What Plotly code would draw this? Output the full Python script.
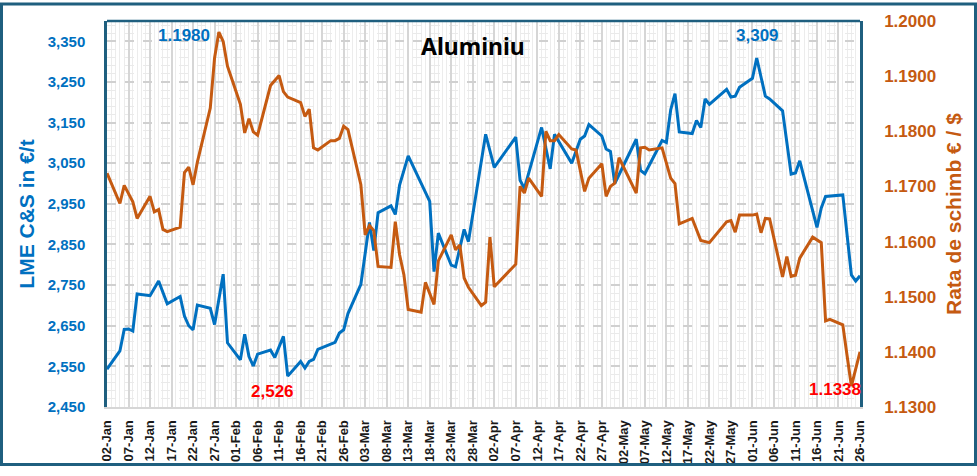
import plotly.graph_objects as go

# ---- data ----
lme_dates = [
    "2026-01-02", "2026-01-05", "2026-01-06", "2026-01-07", "2026-01-08", "2026-01-09",
    "2026-01-12", "2026-01-14", "2026-01-16", "2026-01-19", "2026-01-20", "2026-01-21",
    "2026-01-22", "2026-01-23", "2026-01-26", "2026-01-27", "2026-01-29", "2026-01-30",
    "2026-02-02", "2026-02-03", "2026-02-04", "2026-02-05", "2026-02-06", "2026-02-09",
    "2026-02-10", "2026-02-12", "2026-02-13", "2026-02-16", "2026-02-17", "2026-02-18",
    "2026-02-19", "2026-02-20", "2026-02-24", "2026-02-25", "2026-02-26", "2026-02-27",
    "2026-03-02", "2026-03-04", "2026-03-05", "2026-03-06", "2026-03-09", "2026-03-10",
    "2026-03-11", "2026-03-13", "2026-03-18", "2026-03-19", "2026-03-20", "2026-03-23",
    "2026-03-24", "2026-03-26", "2026-03-27", "2026-03-31", "2026-04-02", "2026-04-07",
    "2026-04-08", "2026-04-09", "2026-04-13", "2026-04-15", "2026-04-16", "2026-04-20",
    "2026-04-22", "2026-04-23", "2026-04-24", "2026-04-27", "2026-04-28", "2026-04-29",
    "2026-04-30", "2026-05-05", "2026-05-06", "2026-05-07", "2026-05-11", "2026-05-12",
    "2026-05-13", "2026-05-14", "2026-05-15", "2026-05-18", "2026-05-19", "2026-05-20",
    "2026-05-21", "2026-05-22", "2026-05-26", "2026-05-27", "2026-05-28", "2026-05-29",
    "2026-06-01", "2026-06-02", "2026-06-04", "2026-06-05", "2026-06-08", "2026-06-10",
    "2026-06-11", "2026-06-12", "2026-06-16", "2026-06-17", "2026-06-18", "2026-06-22",
    "2026-06-24", "2026-06-25", "2026-06-26",
]
lme_values = [
    2543, 2588, 2641, 2642, 2637, 2728,
    2724, 2760, 2704, 2722, 2674, 2650,
    2640, 2701, 2693, 2653, 2777, 2608,
    2566, 2629, 2574, 2551, 2580, 2590,
    2572, 2624, 2526, 2562, 2546, 2562,
    2567, 2592, 2609, 2632, 2640, 2680,
    2752, 2904, 2835, 2928, 2945, 2924,
    2996, 3068, 2956, 2783, 2878, 2799,
    2795, 2887, 2857, 3121, 3040, 3114,
    3008, 2988, 3138, 3036, 3121, 3050,
    3109, 3117, 3145, 3117, 3085, 3079,
    3000, 3109, 3032, 3024, 3106, 3101,
    3181, 3221, 3127, 3123, 3155, 3138,
    3208, 3195, 3232, 3213, 3215, 3237,
    3259, 3309, 3215, 3208, 3179, 3023,
    3026, 3056, 2892, 2940, 2968, 2972,
    2775, 2760, 2773,
]

fx_dates = [
    "2026-01-02", "2026-01-05", "2026-01-06", "2026-01-08", "2026-01-09", "2026-01-12",
    "2026-01-13", "2026-01-14", "2026-01-15", "2026-01-16", "2026-01-19", "2026-01-20",
    "2026-01-21", "2026-01-22", "2026-01-23", "2026-01-26", "2026-01-27", "2026-01-28",
    "2026-01-29", "2026-01-30", "2026-02-02", "2026-02-03", "2026-02-04", "2026-02-05",
    "2026-02-06", "2026-02-09", "2026-02-11", "2026-02-12", "2026-02-13", "2026-02-16",
    "2026-02-17", "2026-02-18", "2026-02-19", "2026-02-20", "2026-02-23", "2026-02-24",
    "2026-02-25", "2026-02-26", "2026-02-27", "2026-03-02", "2026-03-03", "2026-03-04",
    "2026-03-05", "2026-03-06", "2026-03-09", "2026-03-10", "2026-03-11", "2026-03-12",
    "2026-03-13", "2026-03-16", "2026-03-17", "2026-03-19", "2026-03-20", "2026-03-23",
    "2026-03-24", "2026-03-25", "2026-03-26", "2026-03-27", "2026-03-30", "2026-03-31",
    "2026-04-01", "2026-04-02", "2026-04-07", "2026-04-08", "2026-04-09", "2026-04-10",
    "2026-04-13", "2026-04-14", "2026-04-15", "2026-04-16", "2026-04-17", "2026-04-20",
    "2026-04-21", "2026-04-23", "2026-04-24", "2026-04-27", "2026-04-28", "2026-04-29",
    "2026-04-30", "2026-05-01", "2026-05-05", "2026-05-06", "2026-05-07", "2026-05-08",
    "2026-05-11", "2026-05-13", "2026-05-14", "2026-05-15", "2026-05-18", "2026-05-20",
    "2026-05-22", "2026-05-26", "2026-05-27", "2026-05-28", "2026-05-29", "2026-06-01",
    "2026-06-02", "2026-06-03", "2026-06-04", "2026-06-05", "2026-06-08", "2026-06-09",
    "2026-06-10", "2026-06-11", "2026-06-12", "2026-06-15", "2026-06-17", "2026-06-18",
    "2026-06-19", "2026-06-22", "2026-06-23", "2026-06-24", "2026-06-26",
]
fx_values = [
    1.1724, 1.1669, 1.1702, 1.1672, 1.1642, 1.1682,
    1.1654, 1.1658, 1.1622, 1.1618, 1.1626, 1.1725,
    1.1735, 1.1703, 1.1744, 1.1842, 1.1933, 1.1980,
    1.1963, 1.1918, 1.1849, 1.1797, 1.1823, 1.1799,
    1.1793, 1.1883, 1.1901, 1.1872, 1.1862, 1.1852,
    1.1827, 1.1840, 1.1770, 1.1766, 1.1783, 1.1783,
    1.1787, 1.1809, 1.1803, 1.1703, 1.1612, 1.1629,
    1.1620, 1.1555, 1.1553, 1.1636, 1.1576, 1.1540,
    1.1477, 1.1472, 1.1526, 1.1486, 1.1565, 1.1612,
    1.1585, 1.1594, 1.1534, 1.1517, 1.1484, 1.1490,
    1.1608, 1.1518, 1.1559, 1.1700, 1.1688, 1.1715,
    1.1682, 1.1800, 1.1783, 1.1783, 1.1794, 1.1768,
    1.1766, 1.1691, 1.1715, 1.1741, 1.1682, 1.1700,
    1.1706, 1.1752, 1.1688, 1.1770, 1.1771, 1.1766,
    1.1770, 1.1715, 1.1705, 1.1632, 1.1642, 1.1602,
    1.1598, 1.1636, 1.1638, 1.1617, 1.1648, 1.1648,
    1.1650, 1.1616, 1.1642, 1.1641, 1.1536, 1.1573,
    1.1537, 1.1539, 1.1570, 1.1608, 1.1598, 1.1456,
    1.1459, 1.1449, 1.1393, 1.1338, 1.1400,
]

# ---- style ----
BLUE = "#0070C0"
ORANGE = "#C55A11"
FRAME = "#1F5F7F"
FONT = "Arial, Liberation Sans, sans-serif"
W, H = 977, 476
ML, MR, MT, MB = 107, 117, 19, 61
PW, PH = W - ML - MR, H - MT - MB
DAY = 86400000


def px(x):  # pixel x -> paper
    return (x - ML) / PW


def py(y):  # pixel y -> paper
    return (H - MB - y) / PH


fig = go.Figure()

fig.add_trace(go.Scatter(
    x=lme_dates, y=lme_values, mode="lines", name="LME C&S",
    line=dict(color=BLUE, width=3),
))
fig.add_trace(go.Scatter(
    x=fx_dates, y=fx_values, mode="lines", name="EUR/USD", yaxis="y2",
    line=dict(color=ORANGE, width=3),
))

fig.update_layout(
    width=W, height=H,
    margin=dict(l=ML, r=MR, t=MT, b=MB, pad=0),
    paper_bgcolor="white", plot_bgcolor="white",
    showlegend=False,
    font=dict(family=FONT),
    xaxis=dict(
        type="date",
        range=["2026-01-02", "2026-06-26"],
        tick0="2026-01-02", dtick=5 * DAY,
        tickformat="%d-%b", tickangle=-90,
        tickfont=dict(size=13, color="#1a1a1a", weight="bold"),
        ticks="", ticklabelstandoff=6,
        showgrid=True, gridcolor="#D6D6D6", gridwidth=2,
        minor=dict(dtick=DAY, tick0="2026-01-02", showgrid=True,
                   gridcolor="#ECECEC", gridwidth=1),
        showline=True, linecolor="#D6D6D6", linewidth=2,
        zeroline=False,
    ),
    yaxis=dict(
        range=[2450, 3400], tick0=2450, dtick=100, tickformat=",",
        tickfont=dict(size=15, color=BLUE, weight="bold"),
        ticks="", ticklabelstandoff=16,
        title=dict(text="LME C&S in €/t", standoff=8,
                   font=dict(size=21, color=BLUE, weight="bold")),
        showgrid=True, gridcolor="#D0D0D0", gridwidth=1.5, griddash="dash",
        minor=dict(dtick=20, tick0=2450, showgrid=True,
                   gridcolor="#EAEAEA", gridwidth=1, griddash="dash"),
        showline=True, linecolor=FRAME, linewidth=2.5,
        zeroline=False,
    ),
    yaxis2=dict(
        overlaying="y", side="right",
        range=[1.13, 1.20], dtick=0.01, tickformat=".4f",
        tickfont=dict(size=17, color=ORANGE, weight="bold"),
        ticks="", ticklabelstandoff=18,
        title=dict(text="Rata de schimb € / $", standoff=12,
                   font=dict(size=21, color=ORANGE, weight="bold")),
        showgrid=False,
        showline=True, linecolor=FRAME, linewidth=2.5,
        zeroline=False,
    ),
)

# frame: top edge of the plot area and outer border of the picture
fig.add_shape(type="line", xref="paper", yref="paper", x0=0, x1=1, y0=1, y1=1,
              line=dict(color=FRAME, width=2.5))
fig.add_shape(type="rect", xref="paper", yref="paper",
              x0=px(1.5), x1=px(W - 1.5), y0=py(H - 2), y1=py(1.5),
              line=dict(color=FRAME, width=3))

# title and value labels
fig.add_annotation(text="<b>Aluminiu</b>", xref="paper", yref="paper",
                   x=px(473), y=py(45), xanchor="center", yanchor="middle",
                   showarrow=False,
                   font=dict(family="Noto Sans, Open Sans, sans-serif", size=23, color="black"))

labels = [
    (f"{max(fx_values):.4f}", 184, 34, BLUE),
    (f"{max(lme_values):,}", 757, 34, BLUE),
    (f"{min(lme_values):,}", 272, 399, "#FF0000"),
    (f"{min(fx_values):.4f}", 835, 397, "#FF0000"),
]
for text, lx, ly, col in labels:
    fig.add_annotation(text=f"<b>{text}</b>", xref="paper", yref="paper",
                       x=px(lx), y=py(ly), xanchor="center", yanchor="middle",
                       showarrow=False, font=dict(size=17, color=col))

fig.write_html("out.html", config={"displayModeBar": False},
               post_script="document.body.style.margin='0';")
